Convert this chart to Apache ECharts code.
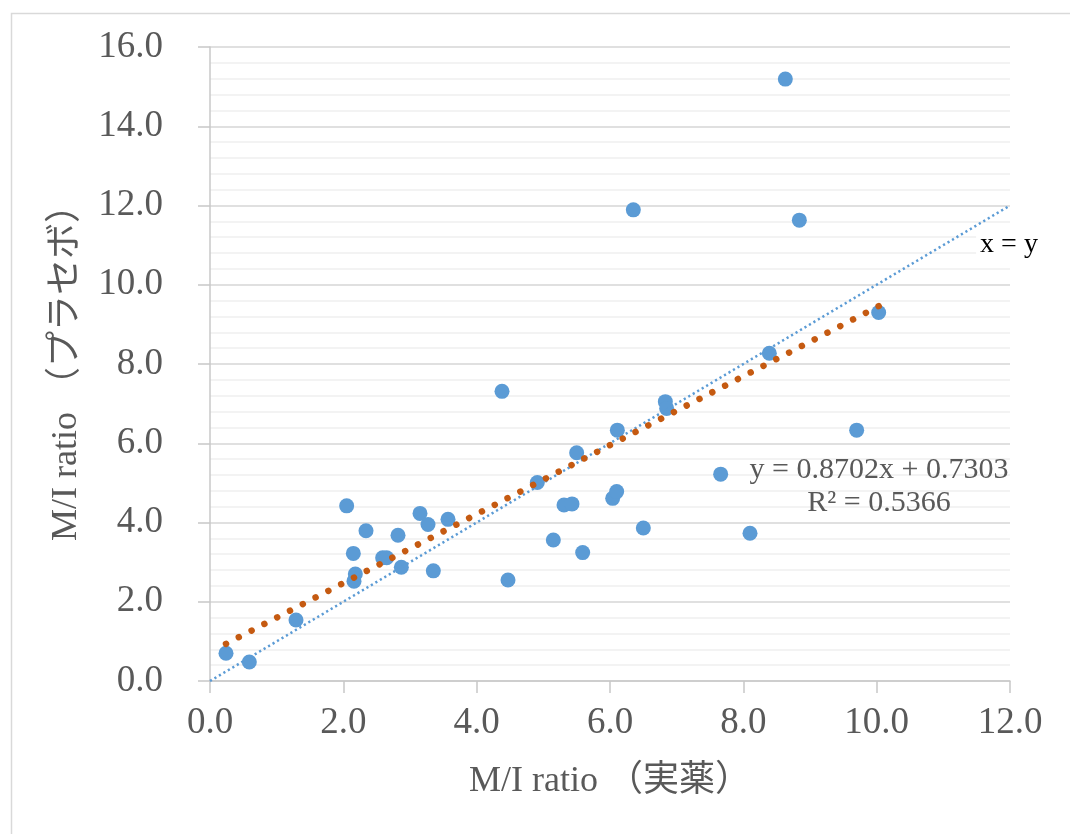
<!DOCTYPE html>
<html>
<head>
<meta charset="utf-8">
<script src="https://cdn.jsdelivr.net/npm/echarts@6/dist/echarts.min.js"></script>
<style>
  html, body { margin: 0; padding: 0; background: #fff; }
  #main { width: 1070px; height: 834px; }
</style>
</head>
<body>
<div id="main"></div>
<script>
// M/I ratio: active drug (x) vs placebo (y)
var xActive = [0.24, 0.59, 1.29, 2.05, 2.15, 2.18, 2.16, 2.34, 2.59, 2.65,
    2.82, 2.87, 3.15, 3.27, 3.35, 3.57, 4.38, 4.47, 4.91, 5.15,
    5.31, 5.43, 5.50, 5.59, 6.04, 6.10, 6.11, 6.35, 6.50, 6.83,
    6.85, 7.66, 8.10, 8.39, 8.63, 8.84, 9.70, 10.03];
var yPlacebo = [0.70, 0.48, 1.54, 4.42, 3.22, 2.70, 2.52, 3.79, 3.11, 3.11,
    3.68, 2.87, 4.23, 3.95, 2.78, 4.08, 7.31, 2.55, 5.01, 3.56,
    4.44, 4.47, 5.76, 3.24, 4.61, 4.78, 6.33, 11.89, 3.86, 7.05,
    6.88, 5.22, 3.73, 8.27, 15.19, 11.63, 6.33, 9.30];

// linear trendline from the chart
var slope = 0.8702;
var intercept = 0.7303;
var r2 = 0.5366;

var xTicks = [0, 2, 4, 6, 8, 10, 12];
var yTicks = [0, 2, 4, 6, 8, 10, 12, 14, 16];

var serif = '"Liberation Serif", "Noto Sans CJK JP", serif';

var points = [];
for (var i = 0; i < xActive.length; i++) {
    points.push([xActive[i], yPlacebo[i]]);
}
var xMin = Math.min.apply(null, xActive);
var xMax = Math.max.apply(null, xActive);
var trend = [[xMin, slope * xMin + intercept], [xMax, slope * xMax + intercept]];
var identity = [[xTicks[0], xTicks[0]], [xTicks[xTicks.length - 1], xTicks[xTicks.length - 1]]];

var chart = echarts.init(document.getElementById('main'));

var option = {
    backgroundColor: '#fff',
    animation: false,
    grid: { left: 210, right: 60, top: 47, bottom: 153 },
    xAxis: {
        type: 'value',
        min: xTicks[0],
        max: xTicks[xTicks.length - 1],
        interval: 2,
        name: 'M/I ratio （実薬）',
        nameLocation: 'middle',
        nameGap: 83,
        nameTextStyle: { fontFamily: serif, fontSize: 36, color: '#595959' },
        axisLine: { lineStyle: { color: '#c8c8c8', width: 1.5 } },
        axisTick: { show: true, length: 12, lineStyle: { color: '#c8c8c8', width: 1.5 } },
        axisLabel: {
            margin: 24,
            fontFamily: serif, fontSize: 37, color: '#595959',
            formatter: function (v) { return v.toFixed(1); }
        },
        splitLine: { show: false }
    },
    yAxis: {
        type: 'value',
        min: yTicks[0],
        max: yTicks[yTicks.length - 1],
        interval: 2,
        name: 'M/I ratio （プラセボ）',
        nameLocation: 'middle',
        nameRotate: 90,
        nameGap: 125,
        nameTextStyle: { fontFamily: serif, fontSize: 36, color: '#595959' },
        axisLine: { show: true, lineStyle: { color: '#c8c8c8', width: 1.5 } },
        axisTick: { show: true, length: 12, lineStyle: { color: '#c8c8c8', width: 1.5 } },
        axisLabel: {
            margin: 47,
            fontFamily: serif, fontSize: 37, color: '#595959',
            formatter: function (v) { return v.toFixed(1); }
        },
        splitLine: { show: true, lineStyle: { color: '#d6d6d6', width: 1.5 } },
        minorTick: { show: false, splitNumber: 5 },
        minorSplitLine: { show: true, lineStyle: { color: '#f0f0f0', width: 1.5 } }
    },
    series: [
        {
            name: 'data',
            type: 'scatter',
            data: points,
            symbol: 'circle',
            symbolSize: 15,
            itemStyle: { color: '#5b9bd5', opacity: 1 },
            z: 2
        },
        {
            name: 'x = y',
            type: 'line',
            data: identity,
            symbol: 'none',
            lineStyle: { color: '#5b9bd5', width: 2.5, type: [2.2, 3] },
            z: 3
        },
        {
            name: 'trend',
            type: 'line',
            data: trend,
            symbol: 'none',
            lineStyle: { color: '#c55a11', width: 6.5, type: [0.01, 14.4], cap: 'round' },
            z: 4
        }
    ],
    graphic: [
        {
            type: 'rect',
            left: 9, top: 11,
            shape: { width: 1200, height: 1000 },
            style: { fill: 'none', stroke: '#d9d9d9', lineWidth: 1.5 },
            silent: true, z: -10
        },
        {
            type: 'text',
            x: 1009, y: 245,
            style: {
                text: 'x = y',
                font: '28px "Liberation Serif", serif',
                fill: '#000',
                align: 'center', verticalAlign: 'middle',
                backgroundColor: '#fff',
                padding: [3, 4]
            },
            z: 10
        },
        {
            type: 'text',
            x: 879, y: 487,
            style: {
                text: 'y = ' + slope.toFixed(4) + 'x + ' + intercept.toFixed(4) + '\nR² = ' + r2.toFixed(4),
                font: '30px "Liberation Serif", serif',
                lineHeight: 33,
                fill: '#595959',
                align: 'center', verticalAlign: 'middle'
            },
            z: 10
        }
    ]
};

chart.setOption(option);

// fit the dot spacing so a dot sits on each end of the trendline
var p0 = chart.convertToPixel({ gridIndex: 0 }, trend[0]);
var p1 = chart.convertToPixel({ gridIndex: 0 }, trend[1]);
var len = Math.sqrt(Math.pow(p1[0] - p0[0], 2) + Math.pow(p1[1] - p0[1], 2));
var gap = len / Math.round(len / 14.4);
chart.setOption({ series: [{}, {}, { lineStyle: { type: [0.01, gap - 0.01] } }] });
</script>
</body>
</html>
